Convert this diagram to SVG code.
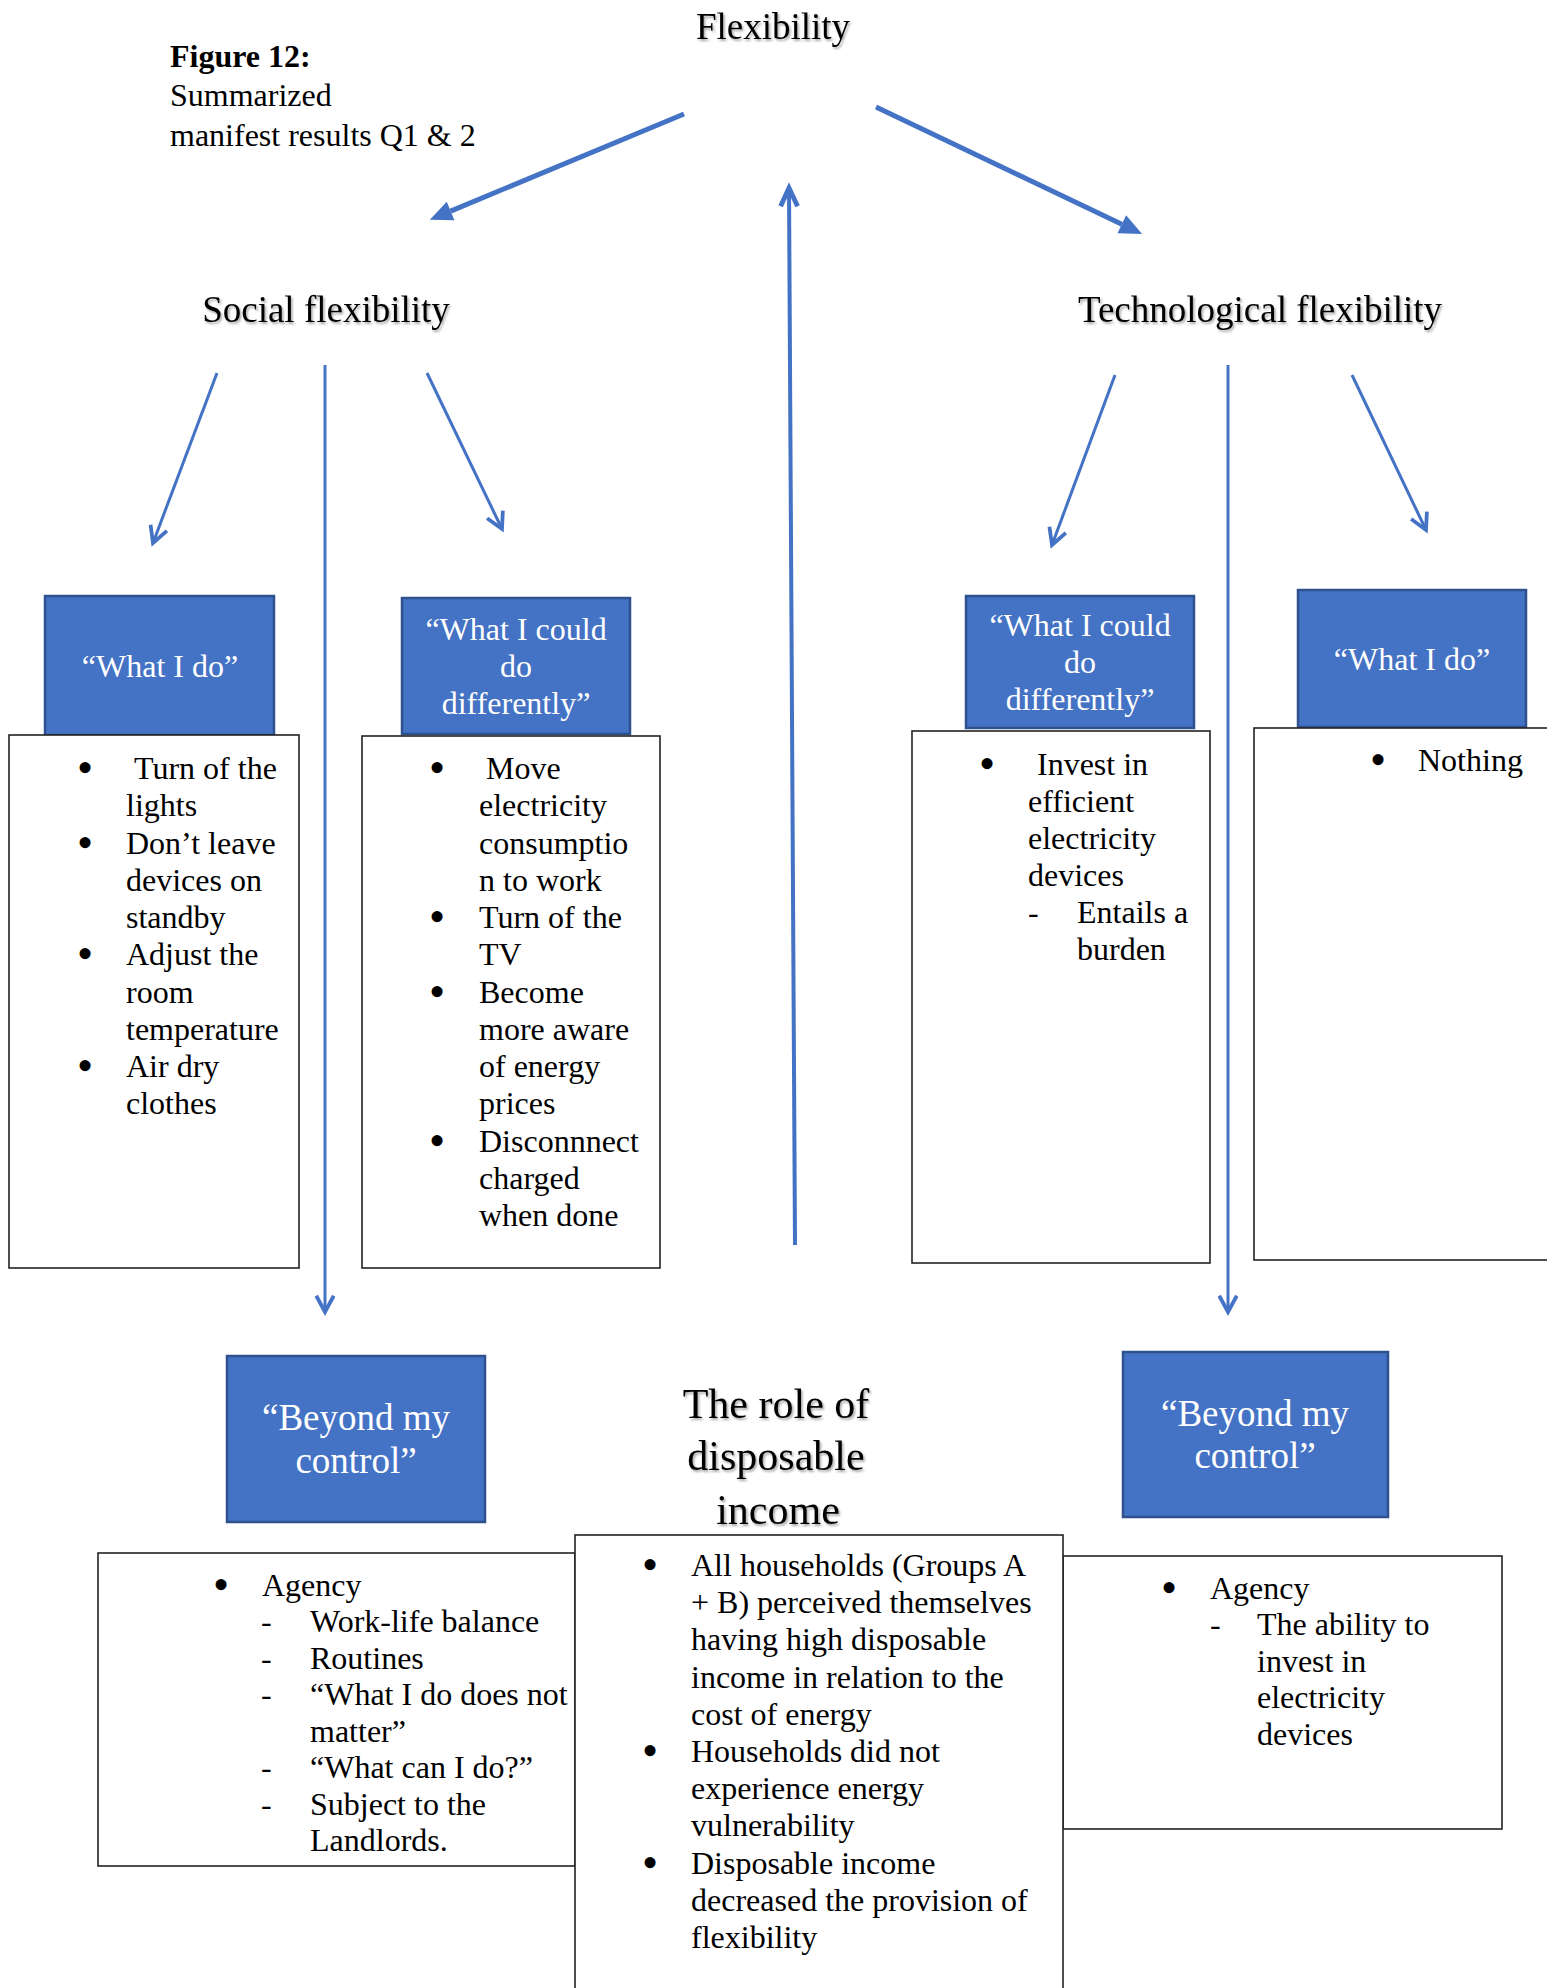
<svg xmlns="http://www.w3.org/2000/svg" width="1547" height="1988" viewBox="0 0 1547 1988">
<style>
text{font-family:"Liberation Serif","Times New Roman",serif;fill:#000}
.t{font-size:32px}
.h{font-size:37px;filter:url(#sh)}
.ttl{font-size:42px;filter:url(#sh)}
.wb{font-size:32px;fill:#fff;text-anchor:middle}
.wb2{font-size:37px;fill:#fff;text-anchor:middle}
.bl{font-size:46px;text-anchor:middle}
.blue{fill:#4472C4;stroke:#2F528F;stroke-width:2.5}
.white{fill:#fff;stroke:#222;stroke-width:1.6}
.thick{stroke:#4472C4;stroke-width:5;fill:none;marker-end:url(#fa)}
.thin{stroke:#4472C4;stroke-width:3;fill:none;marker-end:url(#oa)}
.mid{stroke:#4472C4;stroke-width:4;fill:none;marker-end:url(#ob)}
</style>
<defs>
<filter id="sh" x="-10%" y="-30%" width="130%" height="170%">
<feDropShadow dx="1.5" dy="2" stdDeviation="1.3" flood-color="#000" flood-opacity="0.35"/>
</filter>
<marker id="fa" markerUnits="userSpaceOnUse" markerWidth="30" markerHeight="30" viewBox="-2 -12 24 24" refX="0" refY="0" orient="auto">
<path d="M0,-8 L18,0 L0,8 z" fill="#4472C4"/>
</marker>
<marker id="oa" markerUnits="userSpaceOnUse" markerWidth="30" markerHeight="30" viewBox="-18 -12 24 24" refX="0" refY="0" orient="auto">
<path d="M-13,-7 L0,0 L-13,7" fill="none" stroke="#4472C4" stroke-width="3" stroke-linejoin="miter"/>
</marker>
<marker id="ob" markerUnits="userSpaceOnUse" markerWidth="34" markerHeight="34" viewBox="-20 -14 28 28" refX="0" refY="0" orient="auto">
<path d="M-15,-7 L0,0 L-15,7" fill="none" stroke="#4472C4" stroke-width="4" stroke-linejoin="miter"/>
</marker>
</defs>
<rect width="1547" height="1988" fill="#fff"/>

<g id="caption">
<text class="t" x="170" y="67" font-weight="bold">Figure 12:</text>
<text class="t" x="170" y="106">Summarized</text>
<text class="t" x="170" y="146">manifest results Q1 &amp; 2</text>
</g>

<g id="connectors">
<line class="thick" x1="684" y1="114" x2="450.6" y2="211.1"/>
<line class="thick" x1="876" y1="107" x2="1121.8" y2="224.3"/>
<line class="mid" x1="795" y1="1245" x2="789" y2="188"/>
<line class="thin" x1="217" y1="373" x2="153" y2="543"/>
<line class="thin" x1="325" y1="365" x2="325" y2="1312"/>
<line class="thin" x1="427" y1="373" x2="502" y2="529"/>
<line class="thin" x1="1115" y1="375" x2="1052" y2="545"/>
<line class="thin" x1="1228" y1="365" x2="1228" y2="1312"/>
<line class="thin" x1="1352" y1="375" x2="1426" y2="530"/>
</g>

<g id="flexibility"><text class="h" x="773" y="39" text-anchor="middle">Flexibility</text></g>
<g id="social-flexibility"><text class="h" x="326" y="322" text-anchor="middle">Social flexibility</text></g>
<g id="technological-flexibility"><text class="h" x="1260" y="322" text-anchor="middle">Technological flexibility</text></g>

<g id="social-what-i-do">
<rect class="blue" x="45" y="596" width="229" height="139"/>
<text class="wb" x="160" y="677">“What I do”</text>
</g>
<g id="social-what-i-do-list">
<rect class="white" x="9" y="735" width="290" height="533"/>
<text class="bl" x="85" y="783">•</text>
<text class="t" x="134" y="779">Turn of the</text>
<text class="t" x="126" y="816">lights</text>
<text class="bl" x="85" y="858">•</text>
<text class="t" x="126" y="854">Don’t leave</text>
<text class="t" x="126" y="891">devices on</text>
<text class="t" x="126" y="928">standby</text>
<text class="bl" x="85" y="969">•</text>
<text class="t" x="126" y="965">Adjust the</text>
<text class="t" x="126" y="1003">room</text>
<text class="t" x="126" y="1040">temperature</text>
<text class="bl" x="85" y="1081">•</text>
<text class="t" x="126" y="1077">Air dry</text>
<text class="t" x="126" y="1114">clothes</text>
</g>

<g id="social-could-do">
<rect class="blue" x="402" y="598" width="228" height="136"/>
<text class="wb" x="516" y="640">“What I could</text>
<text class="wb" x="516" y="677">do</text>
<text class="wb" x="516" y="714">differently”</text>
</g>
<g id="social-could-do-list">
<rect class="white" x="362" y="736" width="298" height="532"/>
<text class="bl" x="437" y="783">•</text>
<text class="t" x="486" y="779">Move</text>
<text class="t" x="479" y="816">electricity</text>
<text class="t" x="479" y="854">consumptio</text>
<text class="t" x="479" y="891">n to work</text>
<text class="bl" x="437" y="932">•</text>
<text class="t" x="479" y="928">Turn of the</text>
<text class="t" x="479" y="965">TV</text>
<text class="bl" x="437" y="1007">•</text>
<text class="t" x="479" y="1003">Become</text>
<text class="t" x="479" y="1040">more aware</text>
<text class="t" x="479" y="1077">of energy</text>
<text class="t" x="479" y="1114">prices</text>
<text class="bl" x="437" y="1156">•</text>
<text class="t" x="479" y="1152">Disconnnect</text>
<text class="t" x="479" y="1189">charged</text>
<text class="t" x="479" y="1226">when done</text>
</g>

<g id="tech-could-do">
<rect class="blue" x="966" y="596" width="228" height="132"/>
<text class="wb" x="1080" y="636">“What I could</text>
<text class="wb" x="1080" y="673">do</text>
<text class="wb" x="1080" y="710">differently”</text>
</g>
<g id="tech-could-do-list">
<rect class="white" x="912" y="731" width="298" height="532"/>
<text class="bl" x="987" y="779">•</text>
<text class="t" x="1037" y="775">Invest in</text>
<text class="t" x="1028" y="812">efficient</text>
<text class="t" x="1028" y="849">electricity</text>
<text class="t" x="1028" y="886">devices</text>
<text class="t" x="1028" y="923">-</text>
<text class="t" x="1077" y="923">Entails a</text>
<text class="t" x="1077" y="960">burden</text>
</g>

<g id="tech-what-i-do">
<rect class="blue" x="1298" y="590" width="228" height="137"/>
<text class="wb" x="1412" y="670">“What I do”</text>
</g>
<g id="tech-what-i-do-list">
<rect class="white" x="1254" y="728" width="300" height="532"/>
<text class="bl" x="1378" y="775">•</text>
<text class="t" x="1418" y="771">Nothing</text>
</g>

<g id="social-beyond">
<rect class="blue" x="227" y="1356" width="258" height="166"/>
<text class="wb2" x="356" y="1430">“Beyond my</text>
<text class="wb2" x="356" y="1473">control”</text>
</g>
<g id="social-beyond-list">
<rect class="white" x="98" y="1553" width="477" height="313"/>
<text class="bl" x="221" y="1600">•</text>
<text class="t" x="262" y="1596">Agency</text>
<text class="t" x="261" y="1632">-</text>
<text class="t" x="310" y="1632">Work-life balance</text>
<text class="t" x="261" y="1669">-</text>
<text class="t" x="310" y="1669">Routines</text>
<text class="t" x="261" y="1705">-</text>
<text class="t" x="310" y="1705">“What I do does not</text>
<text class="t" x="310" y="1742">matter”</text>
<text class="t" x="261" y="1778">-</text>
<text class="t" x="310" y="1778">“What can I do?”</text>
<text class="t" x="261" y="1815">-</text>
<text class="t" x="310" y="1815">Subject to the</text>
<text class="t" x="310" y="1851">Landlords.</text>
</g>

<g id="tech-beyond">
<rect class="blue" x="1123" y="1352" width="265" height="165"/>
<text class="wb2" x="1255" y="1426">“Beyond my</text>
<text class="wb2" x="1255" y="1468">control”</text>
</g>
<g id="tech-beyond-list">
<rect class="white" x="1063" y="1556" width="439" height="273"/>
<text class="bl" x="1169" y="1603">•</text>
<text class="t" x="1210" y="1599">Agency</text>
<text class="t" x="1210" y="1635">-</text>
<text class="t" x="1257" y="1635">The ability to</text>
<text class="t" x="1257" y="1672">invest in</text>
<text class="t" x="1257" y="1708">electricity</text>
<text class="t" x="1257" y="1745">devices</text>
</g>

<g id="disposable-income">
<text class="ttl" x="776" y="1418" text-anchor="middle">The role of</text>
<text class="ttl" x="776" y="1470" text-anchor="middle">disposable</text>
<text class="ttl" x="778" y="1524" text-anchor="middle">income</text>
</g>
<g id="disposable-income-list">
<rect class="white" x="575" y="1535" width="488" height="470"/>
<text class="bl" x="650" y="1580">•</text>
<text class="t" x="691" y="1576">All households (Groups A</text>
<text class="t" x="691" y="1613">+ B) perceived themselves</text>
<text class="t" x="691" y="1650">having high disposable</text>
<text class="t" x="691" y="1688">income in relation to the</text>
<text class="t" x="691" y="1725">cost of energy</text>
<text class="bl" x="650" y="1766">•</text>
<text class="t" x="691" y="1762">Households did not</text>
<text class="t" x="691" y="1799">experience energy</text>
<text class="t" x="691" y="1836">vulnerability</text>
<text class="bl" x="650" y="1878">•</text>
<text class="t" x="691" y="1874">Disposable income</text>
<text class="t" x="691" y="1911">decreased the provision of</text>
<text class="t" x="691" y="1948">flexibility</text>
</g>
</svg>
